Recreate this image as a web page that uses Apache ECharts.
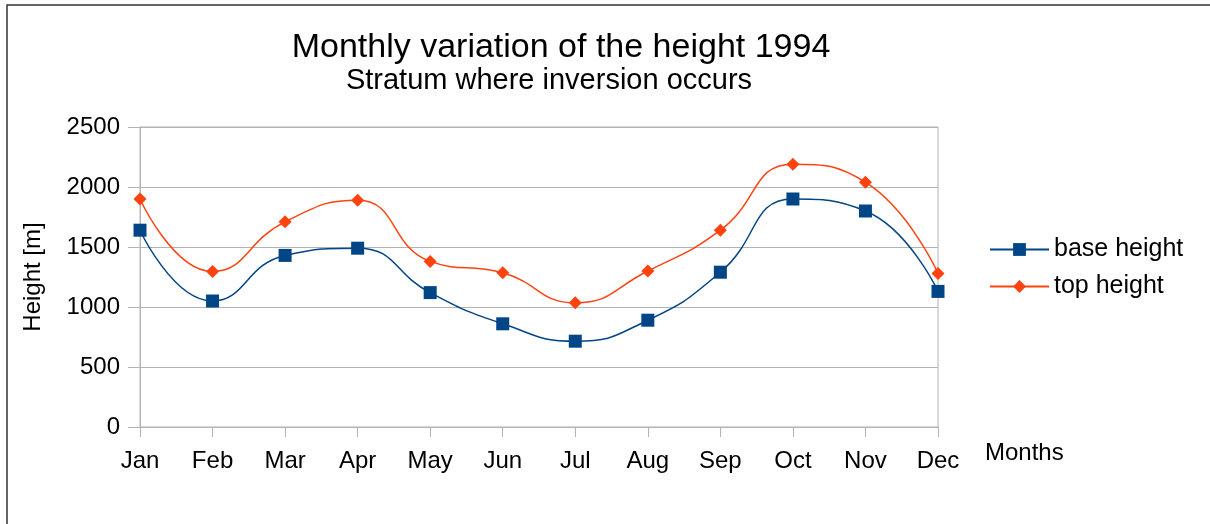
<!DOCTYPE html>
<html>
<head>
<meta charset="UTF-8">
<title>height 1994</title>
<script type="text/javascript" src="https://cdn.jsdelivr.net/npm/echarts@6/dist/echarts.min.js"></script>
<style>
html, body { margin: 0; padding: 0; background: #fff; }
</style>
</head>
<body>
<div id="main" style="width: 1210px; height: 524px"></div>

<script type="text/javascript">
	// months on the x axis
	var months = ['Jan', 'Feb', 'Mar', 'Apr', 'May', 'Jun', 'Jul', 'Aug', 'Sep', 'Oct', 'Nov', 'Dec'];
	// heights (m)
	var baseHeight = [1640, 1050, 1430, 1490, 1120, 860, 715, 890, 1290, 1900, 1800, 1130];
	var topHeight = [1900, 1295, 1710, 1890, 1380, 1285, 1035, 1300, 1640, 2190, 2040, 1280];

	var font = 'Liberation Sans, Arial, sans-serif';
	var mychart = echarts.init(document.getElementById('main'));
	var option = {
		animation: false,
		textStyle: { fontFamily: font },
		title: [{
			text: 'Monthly variation of the height 1994',
			left: 556,
			top: 26,
			textAlign: 'center',
			textStyle: { fontSize: 34, fontWeight: 'normal', color: '#000', fontFamily: font }
		}, {
			text: 'Stratum where inversion occurs',
			left: 544,
			top: 61,
			textAlign: 'center',
			textStyle: { fontSize: 29, fontWeight: 'normal', color: '#000', fontFamily: font }
		}],
		legend: {
			orient: 'vertical',
			left: 984,
			top: 232,
			itemWidth: 59,
			itemHeight: 16,
			itemGap: 12,
			textStyle: { fontSize: 25, color: '#000', fontFamily: font },
			data: ['base height', 'top height']
		},
		grid: {
			left: 140,
			right: 272,
			top: 127,
			bottom: 97,
			show: true,
			borderColor: '#b3b3b3',
			borderWidth: 1
		},
		xAxis: {
			type: 'category',
			boundaryGap: false,
			data: months,
			axisLine: { lineStyle: { color: '#b3b3b3' } },
			axisTick: { show: true, length: 10, lineStyle: { color: '#b3b3b3' } },
			axisLabel: { color: '#000', fontSize: 24, margin: 22, fontFamily: font }
		},
		yAxis: {
			type: 'value',
			min: 0,
			max: 2500,
			interval: 500,
			name: 'Height [m]',
			nameLocation: 'middle',
			nameGap: 95,
			nameTextStyle: { fontSize: 24, color: '#000', fontFamily: font },
			axisLine: { show: true, lineStyle: { color: '#b3b3b3' } },
			axisTick: { show: true, length: 12, lineStyle: { color: '#b3b3b3' } },
			axisLabel: {
				color: '#000', fontSize: 24, margin: 20, fontFamily: font,
				formatter: function (v) { return String(v); }
			},
			splitLine: { lineStyle: { color: '#b3b3b3' } }
		},
		graphic: [{
			type: 'rect',
			shape: { x: 7, y: 5, width: 1400, height: 700 },
			style: { fill: null, stroke: '#333', lineWidth: 1.5 },
			silent: true
		}, {
			type: 'text',
			left: 985,
			top: 441,
			style: { text: 'Months', font: '24px ' + font, fill: '#000' }
		}],
		series: [{
			name: 'base height',
			type: 'line',
			smooth: 0.5,
			symbol: 'rect',
			symbolSize: 13,
			showAllSymbol: true,
			itemStyle: { color: '#004586' },
			lineStyle: { color: '#004586', width: 1.5 },
			data: baseHeight
		}, {
			name: 'top height',
			type: 'line',
			smooth: 0.5,
			symbol: 'diamond',
			symbolSize: 13,
			showAllSymbol: true,
			itemStyle: { color: '#ff420e' },
			lineStyle: { color: '#ff420e', width: 1.5 },
			data: topHeight
		}]
	};

	mychart.setOption(option);
</script>
</body>
</html>
